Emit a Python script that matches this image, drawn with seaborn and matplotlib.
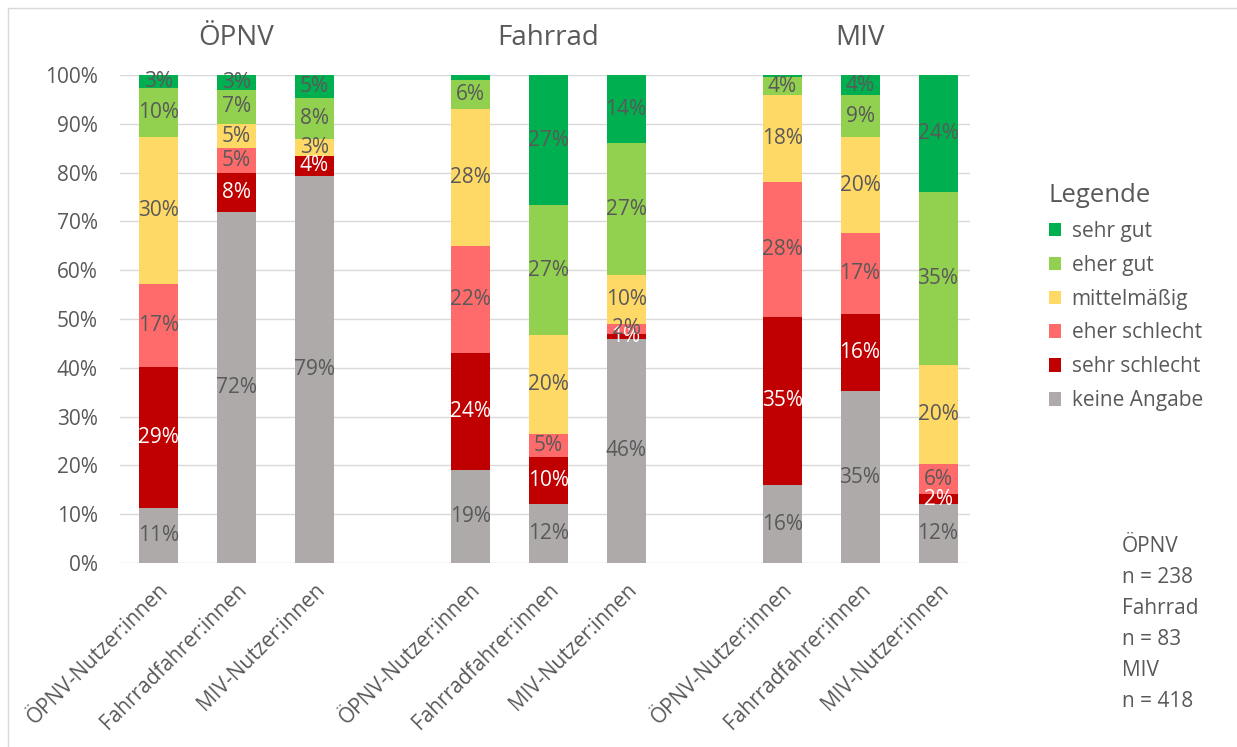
import numpy as np
import pandas as pd
import seaborn as sns
import matplotlib.pyplot as plt
from matplotlib.patches import Patch
from matplotlib.lines import Line2D

# --- data (% of respondents) ---
groups = ["ÖPNV", "Fahrrad", "MIV"]
respondents = ["ÖPNV-Nutzer:innen", "Fahrradfahrer:innen", "MIV-Nutzer:innen"]
ratings = ["sehr gut", "eher gut", "mittelmäßig", "eher schlecht", "sehr schlecht", "keine Angabe"]

keine_angabe = [11.3, 72.0, 79.3, 19.0, 12.1, 46.0, 15.9, 35.2, 12.1]
sehr_schlecht = [28.9, 8.0, 4.2, 24.0, 9.6, 1.0, 34.6, 15.8, 2.0]
eher_schlecht = [17.0, 5.0, 0.0, 22.0, 4.7, 2.0, 27.6, 16.6, 6.2]
mittelmaessig = [30.1, 5.0, 3.4, 28.0, 20.3, 10.0, 17.8, 19.6, 20.3]
eher_gut = [10.0, 7.0, 8.4, 6.0, 26.6, 27.0, 3.6, 8.6, 35.4]
sehr_gut = [2.7, 3.0, 4.7, 1.0, 26.7, 14.0, 0.5, 4.2, 24.0]

# segments without a data label in the original
no_label = [("sehr gut", 3), ("sehr gut", 6), ("eher schlecht", 2)]

sample_text = "ÖPNV\nn = 238\nFahrrad\nn = 83\nMIV\nn = 418"

colors = {
    "sehr gut": "#00B050",
    "eher gut": "#92D050",
    "mittelmäßig": "#FFD966",
    "eher schlecht": "#FF6B6B",
    "sehr schlecht": "#C00000",
    "keine Angabe": "#AEAAAA",
}
text_grey = "#595959"

# bar positions: one empty slot between the groups
positions = [g * 4 + i for g in range(len(groups)) for i in range(len(respondents))]
tick_labels = respondents * len(groups)

series = {
    "keine Angabe": keine_angabe,
    "sehr schlecht": sehr_schlecht,
    "eher schlecht": eher_schlecht,
    "mittelmäßig": mittelmaessig,
    "eher gut": eher_gut,
    "sehr gut": sehr_gut,
}
rows = []
for rating, vals in series.items():
    for k, (pos, v) in enumerate(zip(positions, vals)):
        rows.append({"pos": pos, "idx": k, "rating": rating, "value": v})
df = pd.DataFrame(rows)

sns.set_theme(style="white")
plt.rcParams["font.family"] = ["Open Sans", "DejaVu Sans"]

fig = plt.figure(figsize=(12.37, 7.47), dpi=100)
ax = fig.add_axes([120 / 1237, 1 - 563 / 747, 850 / 1237, 488 / 747])

# stacked bars; first hue level ends up on top
sns.histplot(data=df, x="pos", weights="value", hue="rating", hue_order=ratings,
             multiple="stack", discrete=True, shrink=0.5, palette=colors,
             alpha=1, linewidth=0, legend=False, ax=ax)

# data labels in the middle of each segment
bottoms = np.zeros(len(positions))
for rating, vals in series.items():
    for k, v in enumerate(vals):
        if v > 0 and (rating, k) not in no_label:
            col = "white" if rating == "sehr schlecht" else text_grey
            ax.text(positions[k], bottoms[k] + v / 2, f"{round(v)}%", ha="center", va="center",
                    fontsize=15, color=col)
        bottoms[k] += v

ax.set_xlim(-0.49, 10.41)
ax.set_ylim(0, 100)
ax.set_yticks(range(0, 101, 10))
ax.set_yticklabels([f"{t}%" for t in range(0, 101, 10)], fontsize=15, color=text_grey)
ax.set_xticks(positions)
ax.set_xticklabels(tick_labels, rotation=45, ha="right", rotation_mode="anchor",
                   fontsize=15, color=text_grey)
ax.tick_params(axis="both", length=0)
ax.tick_params(axis="x", pad=12)
ax.tick_params(axis="y", pad=16)
ax.set_xlabel("")
ax.set_ylabel("")
ax.yaxis.grid(True, color="#D9D9D9", linewidth=1)
ax.set_axisbelow(True)
for s in ax.spines.values():
    s.set_visible(False)

# group titles
for g, name in enumerate(groups):
    ax.text(g * 4 + 1, 1.075, name, transform=ax.get_xaxis_transform(), ha="center",
            va="center", fontsize=20, color=text_grey)

# legend
handles = [Patch(facecolor=colors[r], edgecolor="none") for r in ratings]
leg = fig.legend(handles, ratings, title="Legende", loc="upper left",
                 bbox_to_anchor=(1030 / 1237, 1 - 164 / 747), frameon=False,
                 fontsize=15, title_fontsize=18.5, handlelength=0.6, handleheight=0.6,
                 handletextpad=0.5, labelspacing=0.62, alignment="left")
for t in leg.get_texts():
    t.set_color(text_grey)
leg.get_title().set_color(text_grey)

fig.text(1122 / 1237, 1 - 536 / 747, sample_text, ha="left", va="top", fontsize=15,
         color=text_grey, linespacing=1.62)

# light chart border (top and left visible)
fig.add_artist(Line2D([8 / 1237, 1], [1 - 8 / 747, 1 - 8 / 747], color="#D9D9D9", lw=1))
fig.add_artist(Line2D([8 / 1237, 8 / 1237], [0, 1 - 8 / 747], color="#D9D9D9", lw=1))

fig.savefig("out.png", dpi=100)
